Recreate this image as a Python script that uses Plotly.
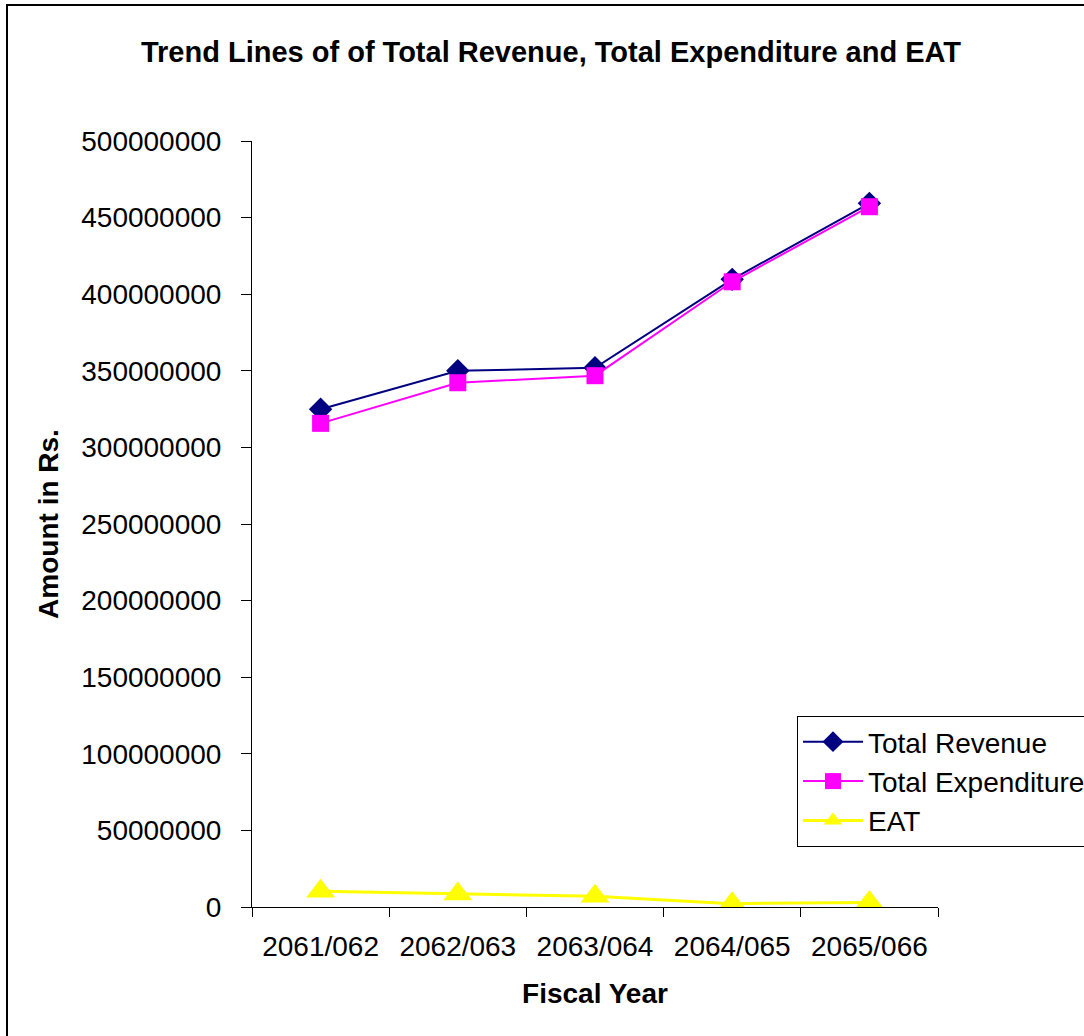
import plotly.graph_objects as go

years = ["2061/062", "2062/063", "2063/064", "2064/065", "2065/066"]
total_revenue = [324900000, 350000000, 352000000, 409700000, 459300000]
total_expenditure = [315700000, 342200000, 346800000, 408100000, 457100000]
eat = [10200000, 8500000, 7000000, 2200000, 3000000]
y_ticks = list(range(0, 500000001, 50000000))

FONT = "Liberation Sans, Arial, sans-serif"
FS = 28

fig = go.Figure()
fig.add_trace(go.Scatter(x=years, y=total_revenue, name="Total Revenue", mode="lines+markers",
                         line=dict(color="#000080", width=2),
                         marker=dict(symbol="diamond", size=18, color="#000080")))
fig.add_trace(go.Scatter(x=years, y=total_expenditure, name="Total Expenditure", mode="lines+markers",
                         line=dict(color="#FF00FF", width=2),
                         marker=dict(symbol="square", size=17, color="#FF00FF")))
fig.add_trace(go.Scatter(x=years, y=eat, name="EAT", mode="lines+markers",
                         line=dict(color="#FFFF00", width=3),
                         marker=dict(symbol="triangle-up", size=25, color="#FFFF00")))

L, R, T, B = 252, 146, 141, 129
W, H = 1084, 1036
pw, ph = W - L - R, H - T - B

fig.update_layout(
    width=W, height=H,
    margin=dict(l=L, r=R, t=T, b=B, pad=0, autoexpand=False),
    paper_bgcolor="white", plot_bgcolor="white",
    font=dict(family=FONT, color="black", size=FS),
    title=dict(text="<b>Trend Lines of of Total Revenue, Total Expenditure and EAT</b>",
               x=551 / W, xanchor="center", xref="container",
               y=1 - 52 / H, yanchor="middle", font=dict(size=29)),
    showlegend=True,
    legend=dict(x=(797 - L) / pw, y=(907 - 716) / ph, xanchor="left", yanchor="top",
                bordercolor="black", borderwidth=1, bgcolor="white",
                font=dict(size=FS), tracegroupgap=0, itemwidth=60),
    xaxis=dict(type="category", range=[-0.5, 4.5], tickson="boundaries",
               ticks="outside", ticklen=9, tickcolor="black", tickwidth=1,
               showline=True, linecolor="black", linewidth=1, showgrid=False,
               tickfont=dict(size=FS), ticklabelstandoff=14,
               title=dict(text="<b>Fiscal Year</b>", font=dict(size=FS), standoff=22)),
    yaxis=dict(range=[0, 500000000], tickvals=y_ticks, ticktext=[str(v) for v in y_ticks],
               ticks="outside", ticklen=10, tickcolor="black", tickwidth=1,
               showline=True, linecolor="black", linewidth=1, showgrid=False, zeroline=False,
               tickfont=dict(size=FS), ticklabelstandoff=14,
               title=dict(text="<b>Amount in Rs.</b>", font=dict(size=FS), standoff=14)),
)

fig.add_shape(type="rect", xref="paper", yref="paper",
              x0=(7 - L) / pw, x1=(W + 10 - L) / pw,
              y0=(907 - (H + 10)) / ph, y1=(907 - 5) / ph,
              line=dict(color="black", width=2), fillcolor="rgba(0,0,0,0)", layer="below")

fig.write_html("out.html")
